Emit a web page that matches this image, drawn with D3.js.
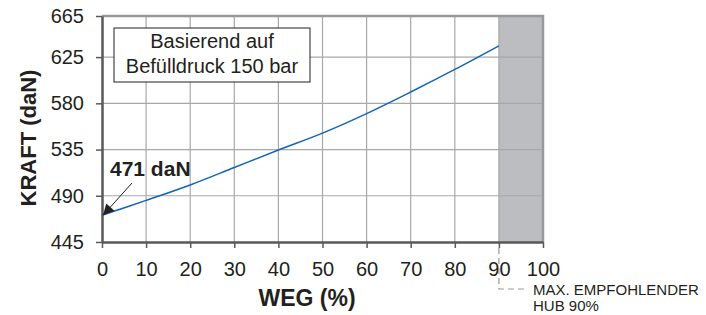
<!DOCTYPE html>
<html>
<head>
<meta charset="utf-8">
<script src="https://cdn.jsdelivr.net/npm/d3@7"></script>
<style>
  body { margin: 0; background: #fff; }
  text { font-family: "Liberation Sans", Arial, sans-serif; fill: #231f20; }
</style>
</head>
<body>
<div id="chart"></div>
<script>
// Werte
const weg = [0, 10, 20, 30, 40, 50, 60, 70, 80, 90];
const kraft = [471, 485.5, 500.5, 517.5, 534.5, 551, 570, 591, 613, 636];
const xTicks = [0, 10, 20, 30, 40, 50, 60, 70, 80, 90, 100];
const yTicks = [445, 490, 535, 580, 625, 665];
const maxHub = 90;

const width = 706, height = 315;
const margin = { top: 16, right: 163, bottom: 73, left: 102 };
const w = width - margin.left - margin.right;
const h = height - margin.top - margin.bottom;

const svg = d3.select("#chart").append("svg")
  .attr("width", width)
  .attr("height", height);

const g = svg.append("g")
  .attr("transform", "translate(" + margin.left + "," + margin.top + ")");

const x = d3.scaleLinear().domain([0, 100]).range([0, w]);
const y = d3.scaleLinear().domain([445, 665]).range([h, 0]);

// grauer Bereich über 90 %
g.append("rect")
  .attr("x", x(maxHub))
  .attr("y", 0)
  .attr("width", x(100) - x(maxHub))
  .attr("height", h)
  .attr("fill", "#bcbdc0");

// Gitter
g.selectAll(".vgrid")
  .data(xTicks.slice(1))
  .enter().append("line")
  .attr("x1", d => x(d)).attr("x2", d => x(d))
  .attr("y1", 0).attr("y2", h)
  .attr("stroke", "#a7a8aa")
  .attr("stroke-width", 1.2);

g.selectAll(".hgrid")
  .data(yTicks.slice(1))
  .enter().append("line")
  .attr("x1", 0).attr("x2", w)
  .attr("y1", d => y(d)).attr("y2", d => y(d))
  .attr("stroke", "#a7a8aa")
  .attr("stroke-width", 1.2);

// oberer und rechter Rahmen
g.append("path")
  .attr("d", "M0," + y(665) + "H" + x(100) + "V" + h)
  .attr("fill", "none")
  .attr("stroke", "#98999b")
  .attr("stroke-width", 2.5);

// Kurve
const line = d3.line()
  .x((d, i) => x(weg[i]))
  .y(d => y(d))
  .curve(d3.curveCatmullRom);

g.append("path")
  .datum(kraft)
  .attr("d", line)
  .attr("fill", "none")
  .attr("stroke", "#1464b4")
  .attr("stroke-width", 1.5);

// Achsen
const xAxis = g.append("g")
  .attr("transform", "translate(0," + h + ")")
  .call(d3.axisBottom(x).tickValues(xTicks).tickSize(6).tickSizeOuter(0).tickPadding(14));

const yAxis = g.append("g")
  .call(d3.axisLeft(y).tickValues(yTicks).tickSize(6).tickSizeOuter(0).tickPadding(12));

[xAxis, yAxis].forEach(a => {
  a.select(".domain").attr("stroke", "#58595b").attr("stroke-width", 2.5);
  a.selectAll(".tick line").attr("stroke", "#58595b").attr("stroke-width", 1.5);
  a.selectAll(".tick text")
    .style("font-family", "'Liberation Sans', Arial, sans-serif")
    .style("font-size", "20px")
    .attr("fill", "#231f20");
});

// Achsentitel
svg.append("text")
  .attr("x", 307)
  .attr("y", 306)
  .attr("text-anchor", "middle")
  .style("font-size", "23px")
  .style("font-weight", "bold")
  .text("WEG (%)");

svg.append("text")
  .attr("transform", "translate(36,138) rotate(-90)")
  .attr("text-anchor", "middle")
  .style("font-size", "22px")
  .style("font-weight", "bold")
  .text("KRAFT (daN)");

// Textbox
g.append("rect")
  .attr("x", 12).attr("y", 12)
  .attr("width", 196).attr("height", 54)
  .attr("fill", "#fff")
  .attr("stroke", "#231f20")
  .attr("stroke-width", 1);

g.append("text")
  .attr("x", 110).attr("y", 32)
  .attr("text-anchor", "middle")
  .style("font-size", "20px")
  .text("Basierend auf");

g.append("text")
  .attr("x", 110).attr("y", 57)
  .attr("text-anchor", "middle")
  .style("font-size", "20px")
  .text("Befülldruck 150 bar");

// Anmerkung 471 daN
svg.append("defs").append("marker")
  .attr("id", "arrow")
  .attr("viewBox", "0 0 10 10")
  .attr("refX", 10).attr("refY", 5)
  .attr("markerWidth", 14).attr("markerHeight", 11)
  .attr("markerUnits", "userSpaceOnUse")
  .attr("orient", "auto")
  .append("path")
  .attr("d", "M0,0L10,5L0,10z")
  .attr("fill", "#231f20");

g.append("line")
  .attr("x1", 30).attr("y1", 183 - margin.top)
  .attr("x2", x(weg[0]) + 1).attr("y2", y(kraft[0]))
  .attr("stroke", "#231f20")
  .attr("stroke-width", 1)
  .attr("marker-end", "url(#arrow)");

svg.append("text")
  .attr("x", 110).attr("y", 176)
  .style("font-size", "21px")
  .style("font-weight", "bold")
  .text(kraft[0] + " daN");

// Hinweis max. Hub
const xm = margin.left + x(maxHub);
svg.append("path")
  .attr("d", "M" + xm + "," + (margin.top + h + 6) + "V289H527")
  .attr("fill", "none")
  .attr("stroke", "#98999b")
  .attr("stroke-width", 1.2)
  .attr("stroke-dasharray", "6,4");

svg.append("text")
  .attr("x", 533).attr("y", 295)
  .style("font-size", "15px")
  .text("MAX. EMPFOHLENDER");

svg.append("text")
  .attr("x", 533).attr("y", 311)
  .style("font-size", "15px")
  .text("HUB 90%");
</script>
</body>
</html>
